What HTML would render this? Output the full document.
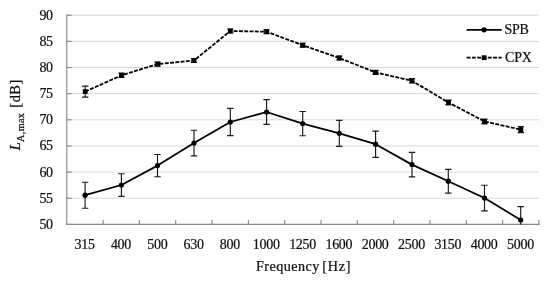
<!DOCTYPE html><html><head><meta charset="utf-8"><title>Chart</title><style>html,body{margin:0;padding:0;background:#fff}svg{display:block}text{font-family:"Liberation Serif","DejaVu Serif",serif;fill:#111;stroke:#111;stroke-width:0.22px}</style></head><body>
<svg width="550" height="282" viewBox="0 0 550 282">
<rect width="550" height="282" fill="#fff"/>
<line x1="66.8" x2="538.9" y1="198.25" y2="198.25" stroke="#d9d9d9" stroke-width="1"/>
<line x1="66.8" x2="538.9" y1="172.10" y2="172.10" stroke="#d9d9d9" stroke-width="1"/>
<line x1="66.8" x2="538.9" y1="145.95" y2="145.95" stroke="#d9d9d9" stroke-width="1"/>
<line x1="66.8" x2="538.9" y1="119.80" y2="119.80" stroke="#d9d9d9" stroke-width="1"/>
<line x1="66.8" x2="538.9" y1="93.65" y2="93.65" stroke="#d9d9d9" stroke-width="1"/>
<line x1="66.8" x2="538.9" y1="67.50" y2="67.50" stroke="#d9d9d9" stroke-width="1"/>
<line x1="66.8" x2="538.9" y1="41.35" y2="41.35" stroke="#d9d9d9" stroke-width="1"/>
<line x1="66.8" x2="538.9" y1="15.20" y2="15.20" stroke="#d9d9d9" stroke-width="1"/>
<line x1="66.8" x2="66.8" y1="14.7" y2="224.9" stroke="#858585" stroke-width="1.1"/>
<line x1="66.3" x2="539.4" y1="224.4" y2="224.4" stroke="#858585" stroke-width="1.1"/>
<line x1="66.8" x2="71.6" y1="224.40" y2="224.40" stroke="#858585" stroke-width="1.1"/>
<line x1="66.8" x2="71.6" y1="198.25" y2="198.25" stroke="#858585" stroke-width="1.1"/>
<line x1="66.8" x2="71.6" y1="172.10" y2="172.10" stroke="#858585" stroke-width="1.1"/>
<line x1="66.8" x2="71.6" y1="145.95" y2="145.95" stroke="#858585" stroke-width="1.1"/>
<line x1="66.8" x2="71.6" y1="119.80" y2="119.80" stroke="#858585" stroke-width="1.1"/>
<line x1="66.8" x2="71.6" y1="93.65" y2="93.65" stroke="#858585" stroke-width="1.1"/>
<line x1="66.8" x2="71.6" y1="67.50" y2="67.50" stroke="#858585" stroke-width="1.1"/>
<line x1="66.8" x2="71.6" y1="41.35" y2="41.35" stroke="#858585" stroke-width="1.1"/>
<line x1="66.8" x2="71.6" y1="15.20" y2="15.20" stroke="#858585" stroke-width="1.1"/>
<line x1="103.12" x2="103.12" y1="219.9" y2="224.9" stroke="#858585" stroke-width="1.1"/>
<line x1="139.43" x2="139.43" y1="219.9" y2="224.9" stroke="#858585" stroke-width="1.1"/>
<line x1="175.75" x2="175.75" y1="219.9" y2="224.9" stroke="#858585" stroke-width="1.1"/>
<line x1="212.06" x2="212.06" y1="219.9" y2="224.9" stroke="#858585" stroke-width="1.1"/>
<line x1="248.38" x2="248.38" y1="219.9" y2="224.9" stroke="#858585" stroke-width="1.1"/>
<line x1="284.69" x2="284.69" y1="219.9" y2="224.9" stroke="#858585" stroke-width="1.1"/>
<line x1="321.01" x2="321.01" y1="219.9" y2="224.9" stroke="#858585" stroke-width="1.1"/>
<line x1="357.32" x2="357.32" y1="219.9" y2="224.9" stroke="#858585" stroke-width="1.1"/>
<line x1="393.64" x2="393.64" y1="219.9" y2="224.9" stroke="#858585" stroke-width="1.1"/>
<line x1="429.95" x2="429.95" y1="219.9" y2="224.9" stroke="#858585" stroke-width="1.1"/>
<line x1="466.27" x2="466.27" y1="219.9" y2="224.9" stroke="#858585" stroke-width="1.1"/>
<line x1="502.58" x2="502.58" y1="219.9" y2="224.9" stroke="#858585" stroke-width="1.1"/>
<line x1="538.90" x2="538.90" y1="219.9" y2="224.9" stroke="#858585" stroke-width="1.1"/>
<clipPath id="c"><rect x="66.8" y="0" width="472.09999999999997" height="224.4"/></clipPath>
<g clip-path="url(#c)">
<path d="M85.1 182.2V208.2M81.9 182.2H88.3M81.9 208.2H88.3" stroke="#1a1a1a" stroke-width="1.15" fill="none"/>
<path d="M121.4 173.7V196.3M118.2 173.7H124.6M118.2 196.3H124.6" stroke="#1a1a1a" stroke-width="1.15" fill="none"/>
<path d="M157.5 154.5V176.7M154.3 154.5H160.7M154.3 176.7H160.7" stroke="#1a1a1a" stroke-width="1.15" fill="none"/>
<path d="M194.0 130.2V155.8M190.8 130.2H197.2M190.8 155.8H197.2" stroke="#1a1a1a" stroke-width="1.15" fill="none"/>
<path d="M230.3 108.4V135.6M227.1 108.4H233.5M227.1 135.6H233.5" stroke="#1a1a1a" stroke-width="1.15" fill="none"/>
<path d="M266.6 99.6V124.4M263.4 99.6H269.8M263.4 124.4H269.8" stroke="#1a1a1a" stroke-width="1.15" fill="none"/>
<path d="M302.7 111.5V135.7M299.5 111.5H305.9M299.5 135.7H305.9" stroke="#1a1a1a" stroke-width="1.15" fill="none"/>
<path d="M339.3 120.3V146.3M336.1 120.3H342.5M336.1 146.3H342.5" stroke="#1a1a1a" stroke-width="1.15" fill="none"/>
<path d="M375.6 131.1V157.3M372.4 131.1H378.8M372.4 157.3H378.8" stroke="#1a1a1a" stroke-width="1.15" fill="none"/>
<path d="M412.0 152.3V176.9M408.8 152.3H415.2M408.8 176.9H415.2" stroke="#1a1a1a" stroke-width="1.15" fill="none"/>
<path d="M448.3 169.3V193.1M445.1 169.3H451.5M445.1 193.1H451.5" stroke="#1a1a1a" stroke-width="1.15" fill="none"/>
<path d="M484.5 185.2V210.8M481.3 185.2H487.7M481.3 210.8H487.7" stroke="#1a1a1a" stroke-width="1.15" fill="none"/>
<path d="M520.7 206.6V233.4M517.5 206.6H523.9M517.5 233.4H523.9" stroke="#1a1a1a" stroke-width="1.15" fill="none"/>
<path d="M85.2 86.1V97.1M82.0 86.1H88.4M82.0 97.1H88.4" stroke="#1a1a1a" stroke-width="1.15" fill="none"/>
<path d="M121.5 73.1V77.5M118.3 73.1H124.7M118.3 77.5H124.7" stroke="#1a1a1a" stroke-width="1.15" fill="none"/>
<path d="M157.6 62.1V66.1M154.4 62.1H160.8M154.4 66.1H160.8" stroke="#1a1a1a" stroke-width="1.15" fill="none"/>
<path d="M194.0 58.5V62.5M190.8 58.5H197.2M190.8 62.5H197.2" stroke="#1a1a1a" stroke-width="1.15" fill="none"/>
<path d="M230.3 29.0V33.0M227.1 29.0H233.5M227.1 33.0H233.5" stroke="#1a1a1a" stroke-width="1.15" fill="none"/>
<path d="M266.6 29.7V33.7M263.4 29.7H269.8M263.4 33.7H269.8" stroke="#1a1a1a" stroke-width="1.15" fill="none"/>
<path d="M302.7 43.2V47.2M299.5 43.2H305.9M299.5 47.2H305.9" stroke="#1a1a1a" stroke-width="1.15" fill="none"/>
<path d="M339.3 56.0V60.0M336.1 56.0H342.5M336.1 60.0H342.5" stroke="#1a1a1a" stroke-width="1.15" fill="none"/>
<path d="M375.5 70.4V74.4M372.3 70.4H378.7M372.3 74.4H378.7" stroke="#1a1a1a" stroke-width="1.15" fill="none"/>
<path d="M412.0 78.6V83.0M408.8 78.6H415.2M408.8 83.0H415.2" stroke="#1a1a1a" stroke-width="1.15" fill="none"/>
<path d="M448.5 100.1V104.9M445.3 100.1H451.7M445.3 104.9H451.7" stroke="#1a1a1a" stroke-width="1.15" fill="none"/>
<path d="M484.5 119.0V123.8M481.3 119.0H487.7M481.3 123.8H487.7" stroke="#1a1a1a" stroke-width="1.15" fill="none"/>
<path d="M520.8 126.6V132.6M517.6 126.6H524.0M517.6 132.6H524.0" stroke="#1a1a1a" stroke-width="1.15" fill="none"/>
<polyline fill="none" stroke="#000" stroke-width="1.8" stroke-linejoin="round" points="85.1,195.2 121.4,185.0 157.5,165.6 194.0,143.0 230.3,122.0 266.6,112.0 302.7,123.6 339.3,133.3 375.6,144.2 412.0,164.6 448.3,181.2 484.5,198.0 520.7,220.0"/>
<polyline fill="none" stroke="#000" stroke-width="1.8" stroke-dasharray="3.9 1.4" stroke-linejoin="round" points="85.2,91.6 121.5,75.3 157.6,64.1 194.0,60.5 230.3,31.0 266.6,31.7 302.7,45.2 339.3,58.0 375.5,72.4 412.0,80.8 448.5,102.5 484.5,121.4 520.8,129.6"/>
</g>
<circle cx="85.1" cy="195.2" r="2.6" fill="#000"/>
<circle cx="121.4" cy="185.0" r="2.6" fill="#000"/>
<circle cx="157.5" cy="165.6" r="2.6" fill="#000"/>
<circle cx="194.0" cy="143.0" r="2.6" fill="#000"/>
<circle cx="230.3" cy="122.0" r="2.6" fill="#000"/>
<circle cx="266.6" cy="112.0" r="2.6" fill="#000"/>
<circle cx="302.7" cy="123.6" r="2.6" fill="#000"/>
<circle cx="339.3" cy="133.3" r="2.6" fill="#000"/>
<circle cx="375.6" cy="144.2" r="2.6" fill="#000"/>
<circle cx="412.0" cy="164.6" r="2.6" fill="#000"/>
<circle cx="448.3" cy="181.2" r="2.6" fill="#000"/>
<circle cx="484.5" cy="198.0" r="2.6" fill="#000"/>
<circle cx="520.7" cy="220.0" r="2.6" fill="#000"/>
<rect x="82.8" y="89.2" width="4.8" height="4.8" fill="#000"/>
<rect x="119.1" y="72.9" width="4.8" height="4.8" fill="#000"/>
<rect x="155.2" y="61.7" width="4.8" height="4.8" fill="#000"/>
<rect x="191.6" y="58.1" width="4.8" height="4.8" fill="#000"/>
<rect x="227.9" y="28.6" width="4.8" height="4.8" fill="#000"/>
<rect x="264.2" y="29.3" width="4.8" height="4.8" fill="#000"/>
<rect x="300.3" y="42.8" width="4.8" height="4.8" fill="#000"/>
<rect x="336.9" y="55.6" width="4.8" height="4.8" fill="#000"/>
<rect x="373.1" y="70.0" width="4.8" height="4.8" fill="#000"/>
<rect x="409.6" y="78.4" width="4.8" height="4.8" fill="#000"/>
<rect x="446.1" y="100.1" width="4.8" height="4.8" fill="#000"/>
<rect x="482.1" y="119.0" width="4.8" height="4.8" fill="#000"/>
<rect x="518.4" y="127.2" width="4.8" height="4.8" fill="#000"/>
<line x1="466.6" x2="501.7" y1="29.8" y2="29.8" stroke="#000" stroke-width="1.8"/><circle cx="484.1" cy="29.8" r="2.6" fill="#000"/>
<line x1="466.6" x2="501.7" y1="57.7" y2="57.7" stroke="#000" stroke-width="1.8" stroke-dasharray="3.9 1.4"/><rect x="481.7" y="55.3" width="4.8" height="4.8" fill="#000"/>
<text x="504.6" y="34.4" font-size="14" letter-spacing="-0.3">SPB</text>
<text x="504.9" y="62.3" font-size="14" letter-spacing="-0.1">CPX</text>
<text x="52.8" y="228.90" font-size="14" text-anchor="end" letter-spacing="-0.3">50</text>
<text x="52.8" y="202.75" font-size="14" text-anchor="end" letter-spacing="-0.3">55</text>
<text x="52.8" y="176.60" font-size="14" text-anchor="end" letter-spacing="-0.3">60</text>
<text x="52.8" y="150.45" font-size="14" text-anchor="end" letter-spacing="-0.3">65</text>
<text x="52.8" y="124.30" font-size="14" text-anchor="end" letter-spacing="-0.3">70</text>
<text x="52.8" y="98.15" font-size="14" text-anchor="end" letter-spacing="-0.3">75</text>
<text x="52.8" y="72.00" font-size="14" text-anchor="end" letter-spacing="-0.3">80</text>
<text x="52.8" y="45.85" font-size="14" text-anchor="end" letter-spacing="-0.3">85</text>
<text x="52.8" y="19.70" font-size="14" text-anchor="end" letter-spacing="-0.3">90</text>
<text x="84.66" y="248.5" font-size="14" text-anchor="middle" letter-spacing="-0.3">315</text>
<text x="120.97" y="248.5" font-size="14" text-anchor="middle" letter-spacing="-0.3">400</text>
<text x="157.29" y="248.5" font-size="14" text-anchor="middle" letter-spacing="-0.3">500</text>
<text x="193.60" y="248.5" font-size="14" text-anchor="middle" letter-spacing="-0.3">630</text>
<text x="229.92" y="248.5" font-size="14" text-anchor="middle" letter-spacing="-0.3">800</text>
<text x="266.23" y="248.5" font-size="14" text-anchor="middle" letter-spacing="-0.3">1000</text>
<text x="302.55" y="248.5" font-size="14" text-anchor="middle" letter-spacing="-0.3">1250</text>
<text x="338.87" y="248.5" font-size="14" text-anchor="middle" letter-spacing="-0.3">1600</text>
<text x="375.18" y="248.5" font-size="14" text-anchor="middle" letter-spacing="-0.3">2000</text>
<text x="411.50" y="248.5" font-size="14" text-anchor="middle" letter-spacing="-0.3">2500</text>
<text x="447.81" y="248.5" font-size="14" text-anchor="middle" letter-spacing="-0.3">3150</text>
<text x="484.13" y="248.5" font-size="14" text-anchor="middle" letter-spacing="-0.3">4000</text>
<text x="520.44" y="248.5" font-size="14" text-anchor="middle" letter-spacing="-0.3">5000</text>
<text x="255.9" y="271.1" font-size="14.2" letter-spacing="0.45">Frequency<tspan dx="-2.0" letter-spacing="0.8"> [Hz]</tspan></text>
<text transform="translate(20.4 150.2) rotate(-90)" font-size="14.4"><tspan font-style="italic">L</tspan><tspan font-size="10.3" dy="3.9" dx="0.3" letter-spacing="0.28">A,max</tspan><tspan dy="-3.9" dx="1.0" letter-spacing="0.5"> [dB]</tspan></text>
</svg></body></html>
